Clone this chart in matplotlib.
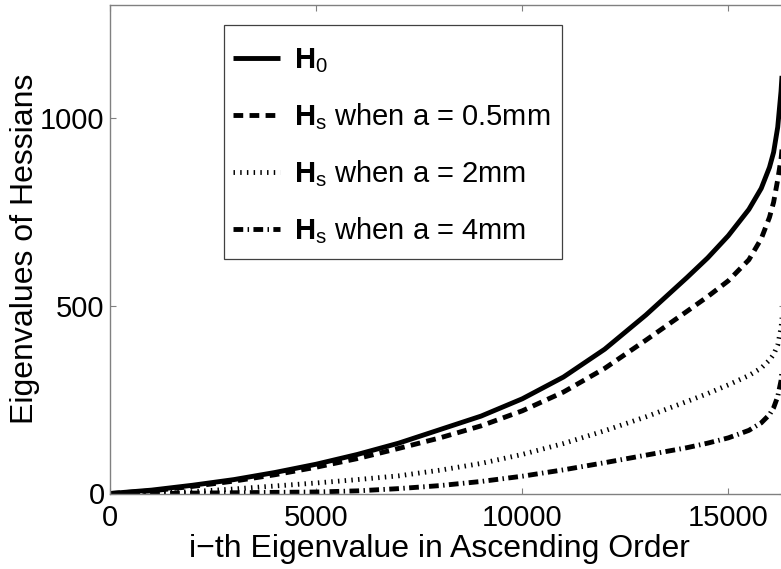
import matplotlib
matplotlib.use("Agg")
import matplotlib.pyplot as plt
from matplotlib.patches import Rectangle

plt.rcParams['font.family'] = ['Liberation Sans', 'DejaVu Sans']
plt.rcParams['mathtext.fontset'] = 'custom'
plt.rcParams['mathtext.rm'] = 'Liberation Sans'
plt.rcParams['mathtext.bf'] = 'Liberation Sans:bold'
plt.rcParams['mathtext.it'] = 'Liberation Sans:italic'

# ---- data ----
idx = [0, 1000, 2000, 3000, 4000, 5000, 6000, 7000, 8000, 9000, 10000, 11000,
       12000, 13000, 14000, 14500, 15000, 15500, 15800, 16000, 16100, 16200,
       16280, 16384]
h0 = [0, 9, 22, 37, 56, 78, 104, 134, 170, 206, 252, 310,
      384, 475, 575, 627, 686, 756, 812, 868, 908, 975, 1070, 1250]
hs_05 = [0, 7, 19, 33, 50, 70, 93, 120, 148, 180, 220, 270,
         333, 408, 485, 524, 566, 622, 678, 735, 775, 835, 890, 1000]
hs_2 = [0, 1, 5, 12, 20, 28, 37, 47, 62, 80, 104, 133,
        167, 204, 245, 266, 289, 314, 334, 355, 370, 395, 440, 560]
hs_4 = [0, 0, 1, 2, 3, 4, 7, 13, 21, 32, 46, 63,
        82, 102, 122, 134, 148, 168, 188, 210, 228, 258, 300, 420]

labels = [r'$\mathbf{H}_\mathrm{0}$',
          r'$\mathbf{H}_\mathrm{s}$ when a = 0.5mm',
          r'$\mathbf{H}_\mathrm{s}$ when a = 2mm',
          r'$\mathbf{H}_\mathrm{s}$ when a = 4mm']
xticks = [0, 5000, 10000, 15000]
yticks = [0, 500, 1000]
xlabel = 'i\u2212th Eigenvalue in Ascending Order'
ylabel = 'Eigenvalues of Hessians'

W, H = 781, 569
fig = plt.figure(figsize=(W / 100, H / 100), dpi=100)
ax = fig.add_axes([110.3 / W, (H - 493.5) / H, 675 / W, (493.5 - 5) / H])

lw = 3.5
styles = [
    dict(linestyle='-'),
    dict(linestyle=(0, (2.0, 1.3))),
    dict(linestyle=(0, (0.3, 1.08))),
    dict(linestyle=(0, (2.0, 0.9, 0.3, 0.9))),
]
for y, lab, st in zip([h0, hs_05, hs_2, hs_4], labels, styles):
    ax.plot(idx, y, color='black', lw=lw, label=lab,
            dash_capstyle='butt', solid_capstyle='butt', **st)

ax.set_xlim(0, 16384)
ax.set_ylim(0, 1300)
ax.set_xticks(xticks)
ax.set_yticks(yticks)
ax.set_xticklabels([str(t) for t in xticks])
ax.set_yticklabels([str(t) for t in yticks])

for s in ax.spines.values():
    s.set_color('#808080')
    s.set_linewidth(1.0)
ax.tick_params(direction='in', length=4.5, width=0.8, color='#808080',
               top=True, right=True, labelsize=21, labelcolor='black')
ax.tick_params(axis='x', pad=7.5)
ax.tick_params(axis='y', pad=4)

ax.set_xlabel(xlabel, fontsize=23)
ax.xaxis.set_label_coords((439 - 110.3) / 675, -0.082)
ax.set_ylabel(ylabel, fontsize=23)
ax.yaxis.set_label_coords((40 - 110.3) / 675, 0.5)

# legend box (frame) drawn as a white rectangle, contents from ax.legend
box = Rectangle((224 / W, 1 - 259 / H), (562 - 224) / W, (259 - 25) / H,
                transform=fig.transFigure, facecolor='white',
                edgecolor='#404040', linewidth=0.9, zorder=4.9, clip_on=False)
ax.add_patch(box)
leg = ax.legend(loc='upper left', bbox_to_anchor=(233 / W, 1 - 46.5 / H),
                bbox_transform=fig.transFigure, fontsize=21,
                handlelength=1.6, handletextpad=0.5, labelspacing=0.89,
                borderpad=0, borderaxespad=0, frameon=False)
leg.set_zorder(5)

fig.savefig('out.png', dpi=100)
